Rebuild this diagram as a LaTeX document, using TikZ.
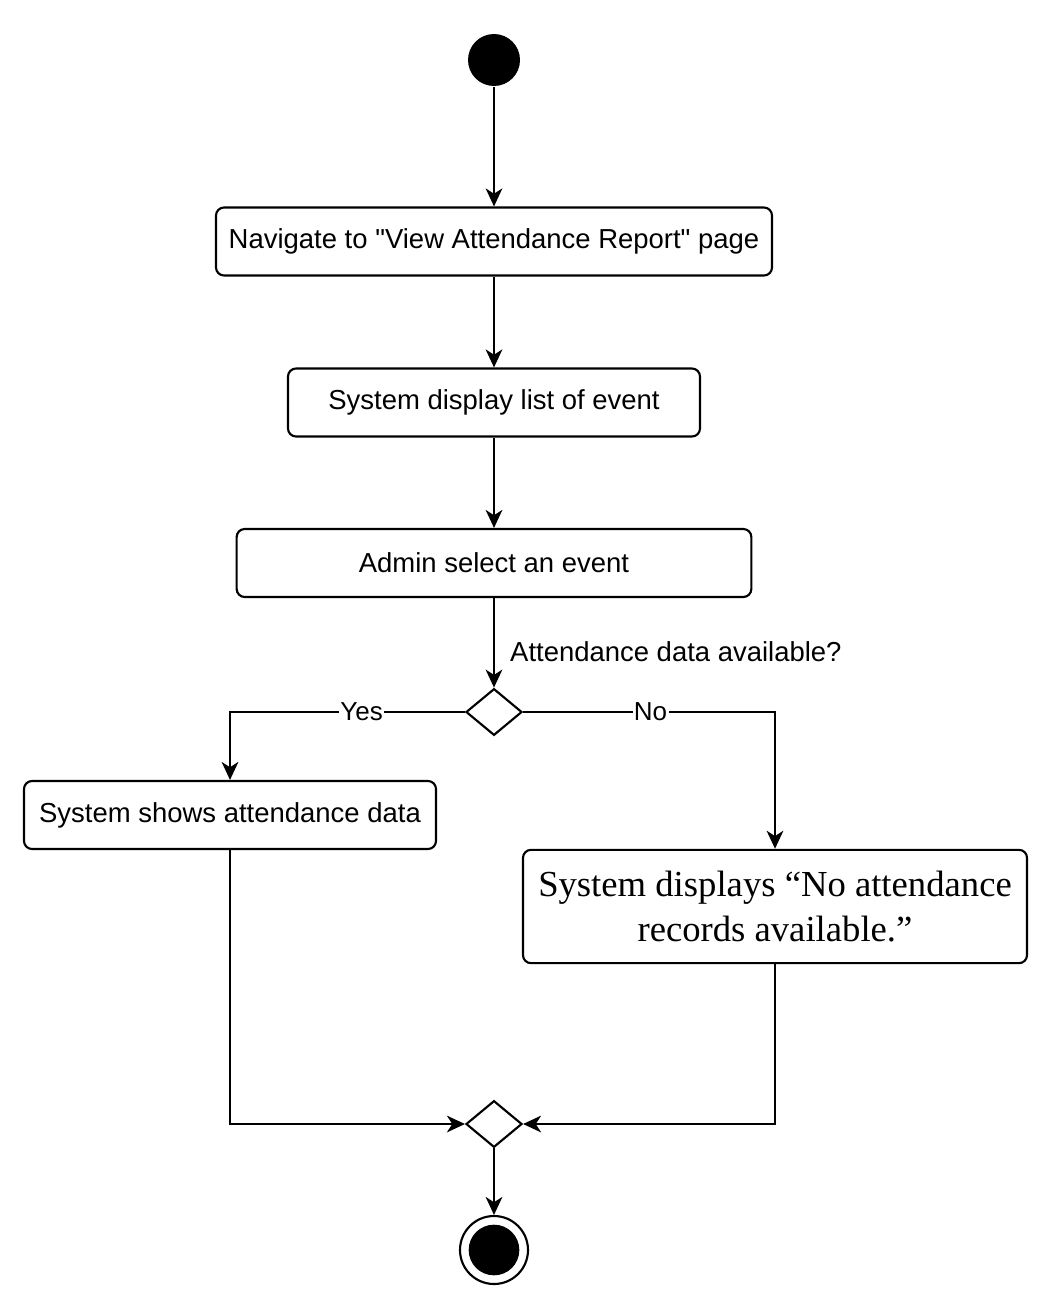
\documentclass[tikz,border=0pt]{standalone}
\usepackage{fontspec}
\setmainfont{Liberation Sans}
\newfontfamily\serifx{Liberation Serif}
\usetikzlibrary{arrows.meta,shapes.geometric}
\begin{document}
\begin{tikzpicture}[x=0.75pt,y=-0.75pt,
  line width=1.6pt,
  act/.style={draw,rounded corners=6pt,minimum height=51pt,font=\fontsize{20.6}{24}\selectfont,inner sep=0pt},
  dec/.style={draw,diamond,minimum width=42pt,minimum height=35pt,inner sep=0pt},
  flow/.style={-{Stealth[length=13.5pt,width=12.5pt,inset=4pt]}},
  lbl/.style={font=\fontsize{19.5}{22}\selectfont,fill=white,inner sep=1pt}]
\useasboundingbox (0,0) rectangle (1052,1309);
\node[circle,fill=black,minimum size=39pt,inner sep=0pt] (start) at (494,60) {};
\node[act,minimum width=417pt] (b1) at (494,241.5) {Navigate to \textquotedbl View Attendance Report\textquotedbl{} page};
\node[act,minimum width=309pt] (b2) at (494,402.5) {System display list of event};
\node[act,minimum width=386pt] (b3) at (494,563) {Admin select an event};
\node[dec] (d1) at (494,712) {};
\node[act,minimum width=309pt] (b4) at (230,815) {System shows attendance data};
\node[act,minimum width=378pt,minimum height=85pt,align=center,font=\serifx\fontsize{27.5}{34}\selectfont] (b5) at (775,906.5) {System displays “No attendance\\records available.”};
\node[dec] (d2) at (494,1124) {};
\node[circle,draw,minimum size=51pt,inner sep=0pt] (end) at (494,1250) {};
\node[circle,fill=black,minimum size=38pt,inner sep=0pt] (endin) at (494,1250) {};
\draw[flow] (start) -- (b1);
\draw[flow] (b1) -- (b2);
\draw[flow] (b2) -- (b3);
\draw[flow] (b3) -- node[right,font=\fontsize{20.6}{24}\selectfont,xshift=8pt,yshift=-7pt] {Attendance data available?} (d1);
\draw[flow] (d1.west) -| node[lbl,pos=0.22] {Yes} (b4.north);
\draw[flow] (d1.east) -| node[lbl,pos=0.253] {No} (b5.north);
\draw[flow] (b4.south) |- (d2.west);
\draw[flow] (b5.south) |- (d2.east);
\draw[flow] (d2) -- (end);
\end{tikzpicture}
\end{document}
